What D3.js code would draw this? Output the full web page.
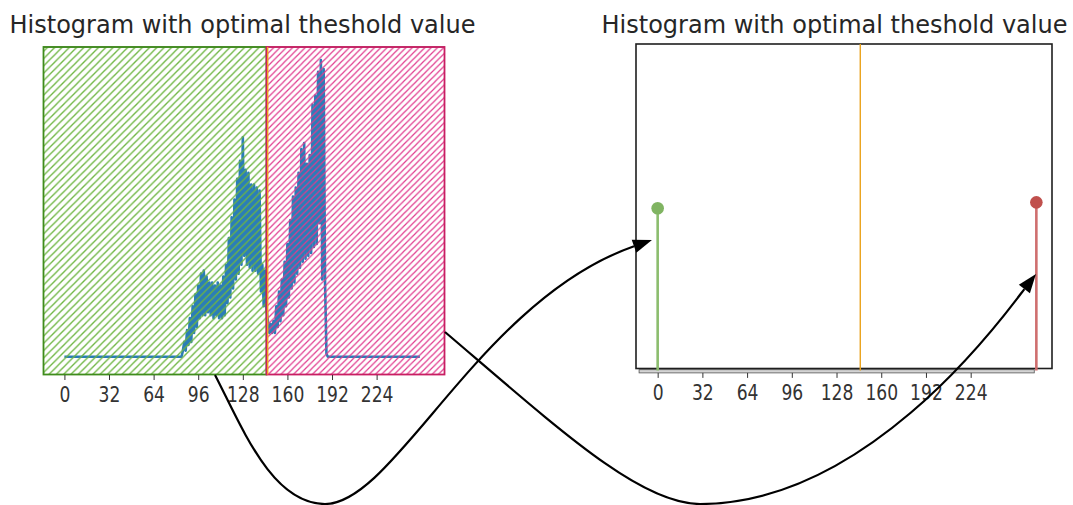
<!DOCTYPE html>
<html>
<head>
<meta charset="utf-8">
<script src="https://cdn.jsdelivr.net/npm/d3@7"></script>
<style>
  html, body { margin: 0; padding: 0; background: #fff; }
  svg { display: block; font-family: "DejaVu Sans", sans-serif; }
</style>
</head>
<body>
<div id="chart"></div>
<script>
// ---- data ----
const titleText = "Histogram with optimal theshold value";
const tickValues = [0, 32, 64, 96, 128, 160, 192, 224];
const threshold = 145;
const nBins = 256;
// histogram counts (relative, peak = 100); bins before histStart and after the list are flat at 0
const histStart = 84;
const histCounts = [
  0, 2, 5, 2, 9, 4, 13, 5, 17, 8, 21, 10, 24, 13, 28, 14, 29, 14, 27, 15,
  25, 14, 25, 13, 24, 14, 25, 13, 24, 13, 27, 14, 31, 18, 40, 20, 47, 23, 53, 26,
  60, 28, 66, 31, 74, 34, 63, 31, 62, 30, 58, 29, 58, 29, 57, 28, 56, 22, 31, 17,
  29, 16, 12, 8, 11, 8, 12, 8, 17, 10, 22, 12, 26, 14, 32, 17, 38, 20, 46, 23,
  54, 25, 57, 28, 62, 30, 70, 32, 72, 33, 65, 34, 68, 35, 85, 37, 88, 38, 96, 45,
  100, 26, 97, 25, 1
];
// class stems on the right panel
const stemX = [0, 271];
const stemY = [0.494, 0.512];
const stemColors = ["#80b462", "#c0504d"];
const stemLineColors = ["#8cbd6e", "#cf6f6f"];
// connectors as two cubic Bezier pieces (figure fractions):
// start, ctrl, ctrl, lowest point, ctrl, ctrl, arrow tip
const connector1 = [
  [0.2004, 0.7426], [0.2261, 0.8483], [0.2535, 0.9980], [0.3029, 0.9980],
  [0.3681, 0.9980], [0.4473, 0.5941], [0.6076, 0.4752]
];
const connector2 = [
  [0.4147, 0.6574], [0.5219, 0.8515], [0.5965, 0.9980], [0.6524, 0.9980],
  [0.8108, 0.9980], [0.9371, 0.6208], [0.9655, 0.5426]
];

const W = 1073, H = 505;
const hist = d3.range(nBins).map(i => {
  const k = i - histStart;
  return (k >= 0 && k < histCounts.length) ? histCounts[k] : 0;
});

const svg = d3.select("#chart").append("svg")
  .attr("width", W).attr("height", H)
  .attr("viewBox", `0 0 ${W} ${H}`);
svg.append("rect").attr("width", W).attr("height", H).attr("fill", "#fff");

const defs = svg.append("defs");
function hatch(id, color, s, sw) {
  const p = defs.append("pattern")
    .attr("id", id)
    .attr("patternUnits", "userSpaceOnUse")
    .attr("width", s).attr("height", s);
  p.append("path")
    .attr("d", `M-1,1 l2,-2 M0,${s} l${s},${-s} M${s - 1},${s + 1} l2,-2`)
    .attr("stroke", color)
    .attr("stroke-width", sw)
    .attr("fill", "none");
}
hatch("hatchGreen", "#6db541", 7.3, 1.3);
hatch("hatchPink", "#e0398d", 6.3, 1.2);

// ---------------- left panel ----------------
const xL = d3.scaleLinear().domain([-15, 272.7]).range([43.5, 444.5]);
const yL = d3.scaleLinear().domain([-6, 104.4]).range([374.5, 47]);
const left = svg.append("g");

left.append("rect")
  .attr("x", xL(-15)).attr("y", yL(104.4))
  .attr("width", xL(272.7) - xL(-15)).attr("height", yL(-6) - yL(104.4))
  .attr("fill", "none").attr("stroke", "#444").attr("stroke-width", 1);

left.append("path")
  .datum(hist)
  .attr("fill", "none")
  .attr("stroke", "#2a7db8")
  .attr("stroke-width", 2.6)
  .attr("stroke-linejoin", "round")
  .attr("d", d3.line().x((d, i) => xL(i)).y(d => yL(d)));

left.append("rect")
  .attr("x", xL(-15)).attr("y", yL(104.4))
  .attr("width", xL(threshold) - xL(-15)).attr("height", yL(-6) - yL(104.4))
  .attr("fill", "url(#hatchGreen)")
  .attr("stroke", "#3f8c1c").attr("stroke-width", 1.8);

left.append("rect")
  .attr("x", xL(threshold)).attr("y", yL(104.4))
  .attr("width", xL(272.7) - xL(threshold)).attr("height", yL(-6) - yL(104.4))
  .attr("fill", "url(#hatchPink)")
  .attr("stroke", "#c81e63").attr("stroke-width", 1.8);

left.append("line")
  .attr("x1", xL(threshold) + 1.2).attr("x2", xL(threshold) + 1.2)
  .attr("y1", yL(104.4)).attr("y2", yL(-6))
  .attr("stroke", "#f0a020").attr("stroke-width", 1.4);

const axL = left.append("g")
  .attr("transform", `translate(0,${yL(-6) + 0.5})`)
  .call(d3.axisBottom(xL).tickValues(tickValues).tickSize(5).tickSizeOuter(0));
axL.select(".domain").remove();
axL.selectAll(".tick line").attr("stroke", "#333");
axL.selectAll(".tick text")
  .attr("dy", null).attr("y", 27)
  .attr("fill", "#333")
  .style("font-size", "22px")
  .style("font-family", "DejaVu Sans")
  .attr("transform", "scale(0.78,1)");

left.append("text")
  .attr("x", 242.5).attr("y", 33)
  .attr("text-anchor", "middle")
  .attr("fill", "#262626")
  .style("font-size", "24px")
  .text(titleText);

// ---------------- right panel ----------------
const xR = d3.scaleLinear().domain([-15.5, 282.2]).range([636, 1052]);
const yR = d3.scaleLinear().domain([0, 1]).range([368.5, 44]);
const right = svg.append("g");

right.append("rect")
  .attr("x", xR(-13.3)).attr("y", yR(0) + 1.2)
  .attr("width", xR(269.5) - xR(-13.3)).attr("height", 3.2)
  .attr("fill", "#d4d4d4").attr("stroke", "#555").attr("stroke-width", 0.8);

right.append("rect")
  .attr("x", xR(-15.5)).attr("y", yR(1))
  .attr("width", xR(282.2) - xR(-15.5)).attr("height", yR(0) - yR(1))
  .attr("fill", "none").attr("stroke", "#1e1e1e").attr("stroke-width", 1.6);

right.append("line")
  .attr("x1", xR(threshold)).attr("x2", xR(threshold))
  .attr("y1", yR(1)).attr("y2", yR(0) + 2)
  .attr("stroke", "#eaa21c").attr("stroke-width", 1.4);

const stems = right.selectAll(".stem").data(stemX).join("g").attr("class", "stem");
stems.append("line")
  .attr("x1", d => xR(d)).attr("x2", d => xR(d))
  .attr("y1", yR(0) + 2).attr("y2", (d, i) => yR(stemY[i]))
  .attr("stroke", (d, i) => stemLineColors[i])
  .attr("stroke-width", 2.6);
stems.append("circle")
  .attr("cx", d => xR(d)).attr("cy", (d, i) => yR(stemY[i]))
  .attr("r", 6.3)
  .attr("fill", (d, i) => stemColors[i]);

const axR = right.append("g")
  .attr("transform", `translate(0,${yR(0) + 4.4})`)
  .call(d3.axisBottom(xR).tickValues(tickValues).tickSize(5).tickSizeOuter(0));
axR.select(".domain").remove();
axR.selectAll(".tick line").attr("stroke", "#333");
axR.selectAll(".tick text")
  .attr("dy", null).attr("y", 27.5)
  .attr("fill", "#333")
  .style("font-size", "22px")
  .style("font-family", "DejaVu Sans")
  .attr("transform", "scale(0.78,1)");

right.append("text")
  .attr("x", 834.5).attr("y", 33)
  .attr("text-anchor", "middle")
  .attr("fill", "#262626")
  .style("font-size", "24px")
  .text(titleText);

// ---------------- connectors ----------------
const fx = d3.scaleLinear().domain([0, 1]).range([0, W]);
const fy = d3.scaleLinear().domain([0, 1]).range([0, H]);

[connector1, connector2].forEach(c => {
  const p = c.map(d => [fx(d[0]), fy(d[1])]);
  const tip = p[6], from = p[5];
  const ang = Math.atan2(tip[1] - from[1], tip[0] - from[0]);
  const len = 19, hw = 7;
  const bx = tip[0] - len * Math.cos(ang), by = tip[1] - len * Math.sin(ang);
  const path = d3.path();
  path.moveTo(p[0][0], p[0][1]);
  path.bezierCurveTo(p[1][0], p[1][1], p[2][0], p[2][1], p[3][0], p[3][1]);
  path.bezierCurveTo(p[4][0], p[4][1], p[5][0], p[5][1], bx, by);
  svg.append("path")
    .attr("d", path.toString())
    .attr("fill", "none")
    .attr("stroke", "#000")
    .attr("stroke-width", 2.2);
  svg.append("path")
    .attr("d", `M${tip[0]},${tip[1]}` +
      `L${bx - hw * Math.sin(ang)},${by + hw * Math.cos(ang)}` +
      `L${bx + hw * Math.sin(ang)},${by - hw * Math.cos(ang)}Z`)
    .attr("fill", "#000");
});
</script>
</body>
</html>
